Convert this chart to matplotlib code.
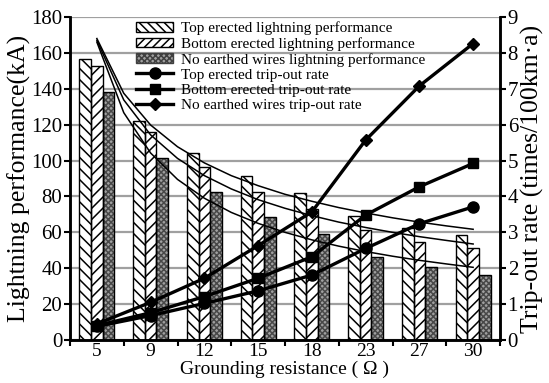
import numpy as np
import matplotlib
matplotlib.use("Agg")
import matplotlib.pyplot as plt
import matplotlib.patches as mpatches
from matplotlib.lines import Line2D

plt.rcParams['font.family'] = ['Liberation Serif', 'DejaVu Serif']
plt.rcParams['hatch.linewidth'] = 1.1

# Data
resistance = ['5', '9', '12', '15', '18', '23', '27', '30']
top_perf = [156.6, 122.2, 104.4, 91.6, 81.8, 69.3, 62.2, 58.5]
bottom_perf = [152.9, 116.1, 96.4, 82.7, 72.8, 61.3, 54.8, 51.1]
none_perf = [138.4, 101.6, 82.7, 68.8, 58.9, 46.4, 40.5, 36.2]

top_rate = [0.38, 0.68, 1.02, 1.37, 1.81, 2.55, 3.24, 3.71]
bottom_rate = [0.40, 0.76, 1.21, 1.72, 2.32, 3.48, 4.27, 4.92]
none_rate = [0.45, 1.05, 1.72, 2.63, 3.57, 5.57, 7.08, 8.26]

# thin trend curves, read at every half category
curve_pos = np.arange(0, 7.5, 0.5)
curve_a = [168, 137.5, 119.8, 107.7, 98.7, 91.6, 86.0, 81.2, 77.3, 73.8, 70.8, 68.1, 65.7, 63.6, 61.7]
curve_b = [167, 133.8, 114.3, 101.2, 91.6, 84.2, 78.2, 73.4, 69.3, 65.7, 62.7, 60.0, 57.6, 55.5, 53.5]
curve_c = [166, 126.7, 104.2, 89.5, 79.0, 71.1, 65.0, 60.0, 55.8, 52.3, 49.3, 46.7, 44.4, 42.4, 40.5]

fig = plt.figure(figsize=(5.49, 3.83), dpi=100)
ax = fig.add_axes([70/549, 1 - 340/383, 430/549, 323/383])
ax2 = ax.twinx()

x = np.arange(len(resistance))
w = 0.218
bar_styles = [
    (top_perf, -w, 'white', '\\\\\\', 'black'),
    (bottom_perf, 0, 'white', '///', 'black'),
    (none_perf, w, '#a0a0a0', 'xxxxxx', '#484848'),
]
for vals, off, fc, hatch, hc in bar_styles:
    ax.bar(x + off, vals, w, color=fc, hatch=hatch, edgecolor=hc, linewidth=0, zorder=2)
    ax.bar(x + off, vals, w, fill=False, edgecolor='black', linewidth=1.0, zorder=3)

for c in (curve_a, curve_b, curve_c):
    ax.plot(curve_pos, c, color='black', lw=1.1, zorder=4)

ax.set_xlim(-0.5, 7.5)
ax.set_ylim(0, 180)
ax.set_yticks(range(0, 181, 20))
ax.yaxis.grid(True, color='#a0a0a0', lw=1.6, zorder=0)
ax.set_axisbelow(True)
ax.set_xticks(x)
ax.set_xticklabels(resistance)
ax.set_xticks(np.arange(-0.5, 8, 1), minor=True)
ax.tick_params(axis='x', which='major', length=0, labelsize=14, pad=2.5)
ax.tick_params(axis='x', which='minor', length=4, width=1.5, direction='out')
ax.tick_params(axis='y', length=4, width=1.5, labelsize=15, pad=1.5)
ax.set_xlabel('Grounding resistance ( \u03a9 )', fontsize=14, labelpad=0)
ax.set_ylabel('Lightning performance(kA)', fontsize=18.5, labelpad=0)

ax2.plot(x, top_rate, color='black', lw=2.4, marker='o', ms=8, zorder=5)
ax2.plot(x, bottom_rate, color='black', lw=2.4, marker='s', ms=7.5, zorder=5)
ax2.plot(x, none_rate, color='black', lw=2.4, marker='D', ms=6, zorder=5)
ax2.set_ylim(0, 9)
ax2.set_yticks(range(0, 10))
ax2.tick_params(axis='y', length=4, width=1.5, labelsize=15, pad=1.5)
ax2.set_ylabel('Trip-out rate (times/100km\u00b7a)', fontsize=18.5, labelpad=2)

for a in (ax, ax2):
    a.spines['top'].set_visible(False)
    for s in ('left', 'right', 'bottom'):
        a.spines[s].set_linewidth(1.8)

handles = [
    mpatches.Patch(facecolor='white', hatch='\\\\\\\\', edgecolor='black', lw=1),
    mpatches.Patch(facecolor='white', hatch='////', edgecolor='black', lw=1),
    mpatches.Patch(facecolor='#a0a0a0', hatch='xxxxxx', edgecolor='#404040', lw=1),
    Line2D([], [], color='black', lw=2.4, marker='o', ms=8),
    Line2D([], [], color='black', lw=2.4, marker='s', ms=7.5),
    Line2D([], [], color='black', lw=2.4, marker='D', ms=6),
]
labels = ['Top erected lightning performance', 'Bottom erected lightning performance',
          'No earthed wires lightning performance', 'Top erected trip-out rate',
          'Bottom erected trip-out rate', 'No earthed wires trip-out rate']
ax2.legend(handles, labels, loc='upper left', bbox_to_anchor=(0.14, 1.005),
           frameon=False, fontsize=11, handlelength=2.4, handleheight=0.6,
           handletextpad=0.5, labelspacing=0.12, borderaxespad=0)

fig.savefig('out.png', dpi=100)
